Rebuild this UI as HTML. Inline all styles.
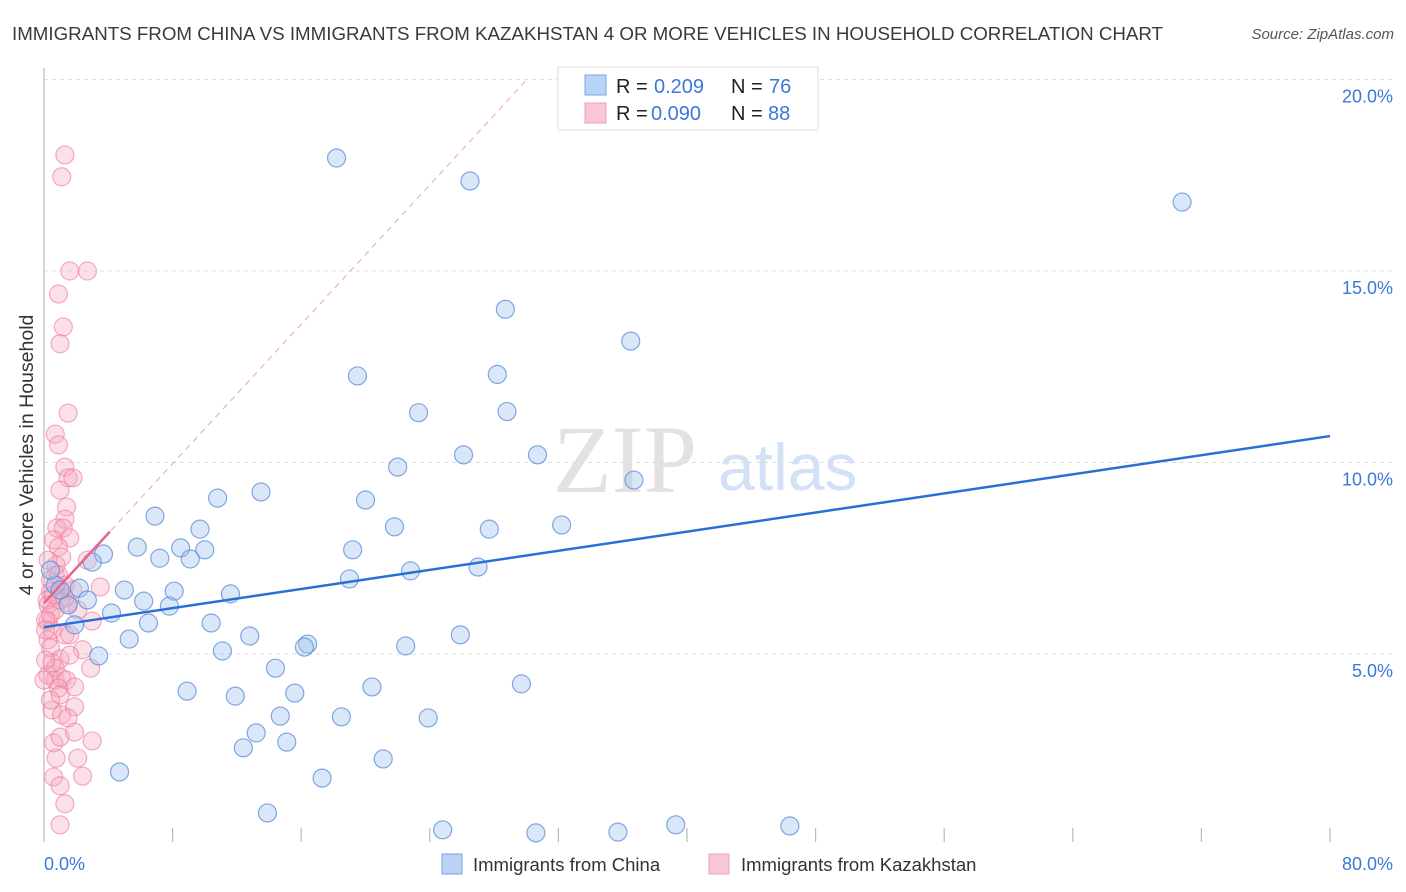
<!DOCTYPE html>
<html><head><meta charset="utf-8"><style>
body{margin:0;background:#fff;font-family:"Liberation Sans",sans-serif}
svg{display:block}
</style></head><body>
<svg id="chart" width="1406" height="892" viewBox="0 0 1406 892">
<text x="12" y="40" font-size="18.5" fill="#3a3a3a" textLength="1151" lengthAdjust="spacingAndGlyphs">IMMIGRANTS FROM CHINA VS IMMIGRANTS FROM KAZAKHSTAN 4 OR MORE VEHICLES IN HOUSEHOLD CORRELATION CHART</text>
<text x="1394" y="39" font-size="15" fill="#555" font-style="italic" text-anchor="end">Source: ZipAtlas.com</text>
<g>
<text x="553" y="492" font-size="96" font-family="Liberation Serif,serif" fill="#e2e2e2">ZIP</text>
<text x="718" y="490" font-size="66" fill="#d2e1f5">atlas</text>
</g>
<g id="grid"></g>
<line x1="44" y1="68" x2="44" y2="842" stroke="#bbb" stroke-width="1.2"/>
<g id="xticks"></g>
<g id="ylabels"></g>
<text x="44" y="870" font-size="18" fill="#3b78d8">0.0%</text>
<text x="1393" y="870" font-size="18" fill="#3b78d8" text-anchor="end">80.0%</text>
<text transform="translate(33,455) rotate(-90)" font-size="19.5" fill="#333" text-anchor="middle">4 or more Vehicles in Household</text>
<g id="pts"></g>
<g id="trends"></g>
<g>
<rect x="558" y="67" width="260" height="63" fill="#fff" stroke="#ddd"/>
<rect x="585" y="75" width="21" height="20" fill="#b8d3f5" stroke="#7aa7e0"/>
<rect x="585" y="103" width="21" height="20" fill="#f9c6d5" stroke="#eea0b8"/>
<g font-size="20">
<text x="616" y="93" fill="#222">R =</text><text x="654" y="93" fill="#3b78d8">0.209</text>
<text x="731" y="93" fill="#222">N =</text><text x="769" y="93" fill="#3b78d8">76</text>
</g>
<g font-size="20">
<text x="616" y="120" fill="#222">R =</text><text x="651" y="120" fill="#3b78d8">0.090</text>
<text x="731" y="120" fill="#222">N =</text><text x="768" y="120" fill="#3b78d8">88</text>
</g>
</g>
<g>
<rect x="442" y="854" width="20" height="20" fill="#b8d3f5" stroke="#7aa7e0"/>
<text x="473" y="871" font-size="18.5" fill="#333">Immigrants from China</text>
<rect x="709" y="854" width="20" height="20" fill="#f9c6d5" stroke="#eea0b8"/>
<text x="741" y="871" font-size="18.5" fill="#333">Immigrants from Kazakhstan</text>
</g>
</svg>
<script>
const yTicks=[5,10,15,20];
const yTickLabels=["5.0%","10.0%","15.0%","20.0%"];
const xTickVals=[8,16,24,32,40,48,56,64,72,80];
const chinaX=[18.2,26.5,70.8,28.7,36.5,19.5,28.2,23.3,28.8,26.1,30.7,22.0,36.7,13.5,10.8,20.0,6.9,9.7,21.8,27.7,32.2,5.8,8.5,10.0,19.2,3.7,7.2,9.1,3.0,27.0,22.8,19.0,5.0,8.1,11.6,2.2,0.7,0.4,6.2,2.7,1.5,4.2,7.8,6.5,10.4,1.9,12.8,5.3,16.4,16.2,25.9,22.5,11.1,3.4,14.4,20.4,29.7,8.9,11.9,15.6,14.7,18.5,23.9,13.2,12.4,15.1,21.1,4.7,17.3,13.9,24.8,30.6,35.7,39.3,46.4,1.0];
const chinaY=[17.95,17.35,16.8,14.0,13.17,12.26,12.3,11.3,11.33,10.2,10.2,9.88,9.54,9.23,9.07,9.02,8.6,8.26,8.32,8.26,8.37,7.79,7.77,7.72,7.72,7.61,7.5,7.48,7.4,7.27,7.17,6.96,6.67,6.64,6.57,6.72,6.8,7.19,6.38,6.41,6.28,6.07,6.25,5.81,5.81,5.76,5.47,5.39,5.26,5.18,5.5,5.21,5.08,4.95,4.63,4.14,4.22,4.03,3.9,3.98,3.38,3.36,3.33,2.94,2.55,2.7,2.26,1.92,1.76,0.85,0.41,0.33,0.35,0.54,0.51,6.67];
const kazX=[1.3,1.1,1.6,2.7,0.9,1.2,1.0,1.5,0.7,0.9,1.3,1.5,1.8,1.0,1.4,1.3,0.8,1.2,0.6,1.6,0.9,1.1,2.7,0.7,0.4,0.9,3.5,0.4,1.0,1.3,0.25,0.7,1.5,3.0,0.25,0.5,1.3,1.6,0.25,0.4,1.0,0.5,0.7,2.9,0.25,0.7,1.1,1.4,0.9,1.9,1.0,0.5,1.1,1.9,1.5,3.0,0.6,1.0,1.9,0.75,2.1,0.6,2.4,1.0,1.3,1.0,0.2,0.4,0.1,0.1,0.4,1.0,0.75,1.3,1.8,2.1,2.4,0.25,0.6,1.6,0.1,0];
const kazY=[18.03,17.46,15.0,15.0,14.4,13.54,13.1,11.29,10.74,10.46,9.88,9.6,9.6,9.28,8.84,8.52,8.29,8.29,7.98,8.03,7.79,7.53,7.45,7.06,6.93,7.06,6.75,6.62,6.67,6.46,6.28,6.15,6.33,5.86,5.86,5.63,5.5,5.5,5.37,5.16,4.87,4.77,4.63,4.63,4.45,4.32,4.37,4.32,4.11,4.14,3.93,3.54,3.41,3.62,3.33,2.73,2.68,2.83,2.96,2.28,2.28,1.79,1.81,1.56,1.09,0.54,6.41,6.02,5.89,4.84,3.8,6.41,7.32,6.8,6.67,6.15,5.11,7.45,6.54,4.97,5.63,4.32];
const chinaTrend=[5.7,10.69];
const kazTrend=[6.33,0.455];
const NS="http://www.w3.org/2000/svg";
const X=v=>44+v*16.075, Y=v=>845.5-v*38.3;
function mk(tag,attrs,parent){const e=document.createElementNS(NS,tag);for(const k in attrs)e.setAttribute(k,attrs[k]);parent.appendChild(e);return e;}
const grid=document.getElementById('grid'),yl=document.getElementById('ylabels'),xt=document.getElementById('xticks');
yTicks.forEach((t,i)=>{
 const l=mk('line',{x1:44,x2:1394,y1:Y(t),y2:Y(t),stroke:'#ddd','stroke-dasharray':'4,4'},grid);
 
 
 const tx=mk('text',{x:1393,y:Y(t)+23,'font-size':18,fill:'#3b78d8','text-anchor':'end'},yl);
 tx.textContent=yTickLabels[i];
 
 
});
xTickVals.forEach(t=>{
 const l=mk('line',{x1:X(t),x2:X(t),y1:828,y2:842,stroke:'#bbb','stroke-width':1.2},xt);
 
 
});
const pts=document.getElementById('pts');
kazX.forEach((v,i)=>{
 const c=mk('circle',{cx:X(v),cy:Y(kazY[i]),r:9,fill:'rgba(246,165,190,0.35)',stroke:'rgba(236,120,155,0.6)','stroke-width':1.2},pts);
 
 
});
chinaX.forEach((v,i)=>{
 const c=mk('circle',{cx:X(v),cy:Y(chinaY[i]),r:9,fill:'rgba(160,196,240,0.4)',stroke:'rgba(90,140,215,0.75)','stroke-width':1.2},pts);
 
 
});
const tr=document.getElementById('trends');
const d=mk('line',{x1:X(0),y1:Y(kazTrend[0]),x2:X((20-kazTrend[0])/kazTrend[1]),y2:Y(20),stroke:'#eaa0b8','stroke-width':1,'stroke-dasharray':'6,5'},tr);


const k=mk('line',{x1:X(0),y1:Y(kazTrend[0]),x2:X(4.1),y2:Y(kazTrend[0]+kazTrend[1]*4.1),stroke:'#e8648c','stroke-width':2.5},tr);


const b=mk('line',{x1:X(0),y1:Y(chinaTrend[0]),x2:X(80),y2:Y(chinaTrend[1]),stroke:'#2a6fd6','stroke-width':2.5},tr);


</script>
</body></html>
